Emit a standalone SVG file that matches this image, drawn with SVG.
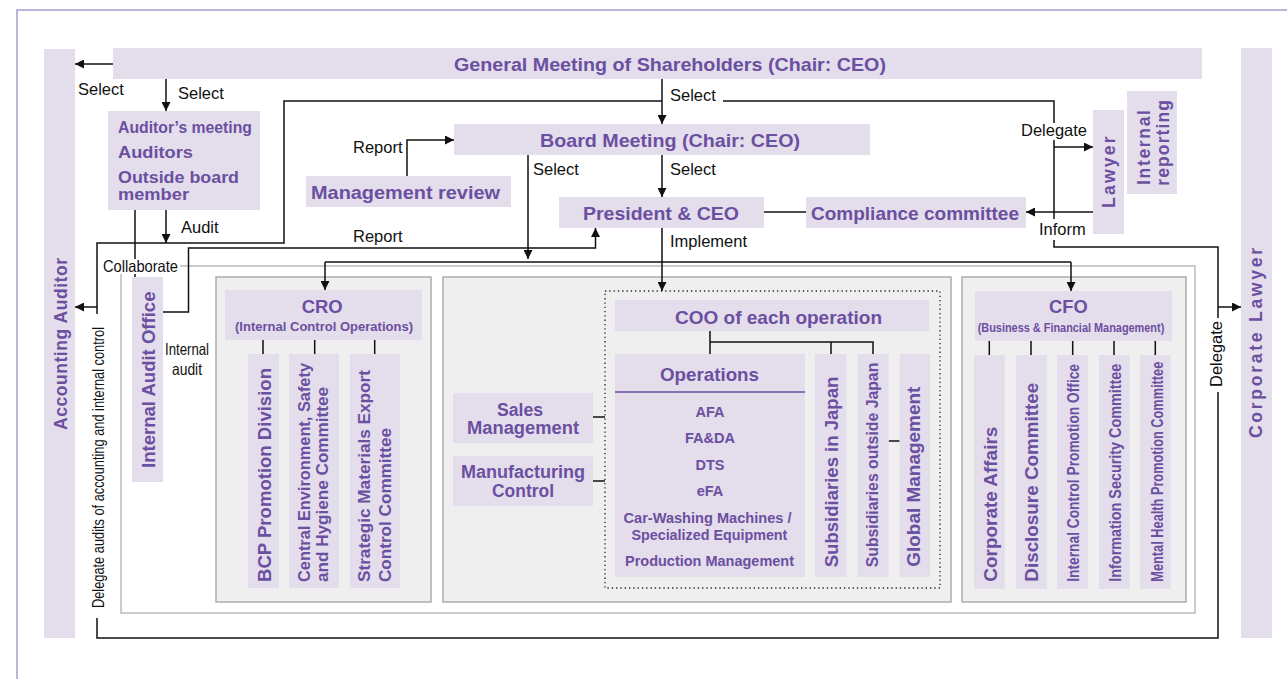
<svg xmlns="http://www.w3.org/2000/svg" width="1287" height="679" viewBox="0 0 1287 679">
<defs>
<style>
.box{fill:#e3ddec}
.t{font-family:"Liberation Sans",Arial,sans-serif;font-weight:bold;fill:#6b4fa0}
.l{font-family:"Liberation Sans",Arial,sans-serif;font-size:16.5px;fill:#111}
.c{fill:none;stroke:#111;stroke-width:1.5}
.panel{fill:#efefef;stroke:#adadad;stroke-width:1.5}
</style>
<marker id="ah" viewBox="0 0 10 10" refX="10" refY="5" markerWidth="9" markerHeight="9" markerUnits="userSpaceOnUse" orient="auto"><path d="M0,0 L10,5 L0,10 z" fill="#111"/></marker>
</defs>
<rect width="1287" height="679" fill="#fff"/>
<path d="M17,679 V10 H1287" fill="none" stroke="#a79ccf" stroke-width="1.5"/>

<!-- containers -->
<rect id="container" x="121" y="266" width="1074" height="347" fill="#fff" stroke="#bbb" stroke-width="1.5"/>
<rect id="cro-panel" class="panel" x="216" y="277" width="215" height="325"/>
<rect id="ops-panel" class="panel" x="443" y="277" width="508" height="325"/>
<rect id="cfo-panel" class="panel" x="962" y="277" width="224" height="325"/>
<rect id="coo-dotted" x="605" y="291" width="335" height="297" fill="none" stroke="#222" stroke-width="1.3" stroke-dasharray="1.3 3"/>

<g id="connectors" class="c">
<path d="M113,64 H75" marker-end="url(#ah)"/>
<path d="M166,79 V111" marker-end="url(#ah)"/>
<path d="M662,79 V124" marker-end="url(#ah)"/>
<path d="M97,314 V243 H284 V101 H662"/>
<path d="M723,101 H1054 V123"/>
<path d="M1054,140 V219"/>
<path d="M1054,240 V247 H1218 V318"/>
<path d="M1218,392 V638 H97 V618"/>
<path d="M97,307 H75" marker-end="url(#ah)"/>
<path d="M1218,307 H1241" marker-end="url(#ah)"/>
<path d="M1054,147 H1093" marker-end="url(#ah)"/>
<path d="M1093,212 H1026" marker-end="url(#ah)"/>
<path d="M662,155 V197" marker-end="url(#ah)"/>
<path d="M528,155 V259" marker-end="url(#ah)"/>
<path d="M325,262 H1071"/>
<path d="M325,262 V290" marker-end="url(#ah)"/>
<path d="M1071,262 V291" marker-end="url(#ah)"/>
<path d="M662,228 V291" marker-end="url(#ah)"/>
<path d="M407,176 V140 H454" marker-end="url(#ah)"/>
<path d="M764,212 H806"/>
<path d="M166,210 V243" marker-end="url(#ah)"/>
<path d="M135,210 V260"/>
<path d="M135,273 V277"/>
<path d="M163,312 H188.5 V248 H595.5 V228" marker-end="url(#ah)"/>
<path d="M263,340 V354 M314.7,340 V354 M374.7,340 V354"/>
<path d="M989.3,341 V355 M1031,341 V355 M1072.7,341 V355 M1114,341 V355 M1155.3,341 V355"/>
<path d="M710,331 V354 M710,342 H873 V354 M831,342 V354"/>
<path d="M888.6,441 H899.7"/>
<path d="M593,417 H605 M593,481 H605"/>
</g>

<g id="accounting-auditor"><rect class="box" x="44" y="49" width="31" height="589"/>
<text class="t" transform="translate(66.5,430) rotate(-90)" font-size="17.5" textLength="172">Accounting Auditor</text></g>
<g id="corporate-lawyer"><rect class="box" x="1241" y="48" width="31" height="590"/>
<text class="t" transform="translate(1262,438) rotate(-90)" font-size="17.5" textLength="190">Corporate Lawyer</text></g>

<g id="gm"><rect class="box" x="113" y="48" width="1089" height="31"/>
<text class="t" x="454" y="71" font-size="19" textLength="432" lengthAdjust="spacingAndGlyphs">General Meeting of Shareholders (Chair: CEO)</text></g>

<g id="auditors"><rect class="box" x="108" y="111" width="152" height="99"/>
<text class="t" x="118" y="133" font-size="16.5" textLength="134" lengthAdjust="spacingAndGlyphs">Auditor’s meeting</text>
<text class="t" x="118" y="158" font-size="16.5" textLength="75" lengthAdjust="spacingAndGlyphs">Auditors</text>
<text class="t" x="118" y="183" font-size="16.5" textLength="121" lengthAdjust="spacingAndGlyphs">Outside board</text>
<text class="t" x="118" y="200" font-size="16.5" textLength="71" lengthAdjust="spacingAndGlyphs">member</text></g>

<g id="board"><rect class="box" x="454" y="124" width="416" height="31"/>
<text class="t" x="540" y="146.7" font-size="19" textLength="260" lengthAdjust="spacingAndGlyphs">Board Meeting (Chair: CEO)</text></g>

<g id="mgmt-review"><rect class="box" x="306" y="176" width="205" height="31"/>
<text class="t" x="311" y="199" font-size="19" textLength="189" lengthAdjust="spacingAndGlyphs">Management review</text></g>

<g id="president"><rect class="box" x="559" y="197" width="205" height="31"/>
<text class="t" x="583" y="220" font-size="19" textLength="156" lengthAdjust="spacingAndGlyphs">President &amp; CEO</text></g>

<g id="compliance"><rect class="box" x="806" y="197" width="220" height="31"/>
<text class="t" x="811" y="220" font-size="19" textLength="208" lengthAdjust="spacingAndGlyphs">Compliance committee</text></g>

<g id="lawyer"><rect class="box" x="1093" y="110" width="31" height="124"/>
<text class="t" transform="translate(1114.5,208) rotate(-90)" font-size="17.5" textLength="71.6">Lawyer</text></g>

<g id="internal-reporting"><rect class="box" x="1127" y="91" width="50" height="103"/>
<text class="t" transform="translate(1150,185) rotate(-90)" font-size="17.5" textLength="75">Internal</text>
<text class="t" transform="translate(1168.5,185.7) rotate(-90)" font-size="17.5" textLength="85.7">reporting</text></g>

<g id="internal-audit-office"><rect class="box" x="132" y="277" width="31" height="205"/>
<text class="t" transform="translate(155,468) rotate(-90)" font-size="18.5" textLength="176.5" lengthAdjust="spacingAndGlyphs">Internal Audit Office</text></g>

<g id="cro"><rect class="box" x="225" y="290" width="197" height="50"/>
<text class="t" x="301.7" y="312.7" font-size="18.5" textLength="41" lengthAdjust="spacingAndGlyphs">CRO</text>
<text class="t" x="235" y="331" font-size="13.5" textLength="178" lengthAdjust="spacingAndGlyphs">(Internal Control Operations)</text></g>

<g id="bcp"><rect class="box" x="248" y="354" width="31" height="234"/>
<text class="t" transform="translate(270.5,582) rotate(-90)" font-size="18" textLength="214" lengthAdjust="spacingAndGlyphs">BCP Promotion Division</text></g>
<g id="central-env"><rect class="box" x="289" y="354" width="50" height="234"/>
<text class="t" transform="translate(310,582) rotate(-90)" font-size="16.5" textLength="219" lengthAdjust="spacingAndGlyphs">Central Environment, Safety</text>
<text class="t" transform="translate(328,582) rotate(-90)" font-size="16.5" textLength="195" lengthAdjust="spacingAndGlyphs">and Hygiene Committee</text></g>
<g id="strategic"><rect class="box" x="350" y="354" width="50" height="234"/>
<text class="t" transform="translate(369.5,582) rotate(-90)" font-size="17" textLength="212" lengthAdjust="spacingAndGlyphs">Strategic Materials Export</text>
<text class="t" transform="translate(390.5,582) rotate(-90)" font-size="17" textLength="154" lengthAdjust="spacingAndGlyphs">Control Committee</text></g>

<g id="sales"><rect class="box" x="453" y="393" width="140" height="50"/>
<text class="t" x="497" y="416" font-size="18" textLength="46" lengthAdjust="spacingAndGlyphs">Sales</text>
<text class="t" x="467" y="434" font-size="18" textLength="112" lengthAdjust="spacingAndGlyphs">Management</text></g>
<g id="manufacturing"><rect class="box" x="453" y="456" width="140" height="50"/>
<text class="t" x="461" y="478" font-size="18" textLength="124" lengthAdjust="spacingAndGlyphs">Manufacturing</text>
<text class="t" x="492" y="497" font-size="18" textLength="62" lengthAdjust="spacingAndGlyphs">Control</text></g>

<g id="coo"><rect class="box" x="615" y="300" width="314" height="31"/>
<text class="t" x="675" y="323.5" font-size="19" textLength="207" lengthAdjust="spacingAndGlyphs">COO of each operation</text></g>

<g id="operations"><rect class="box" x="615" y="354" width="190" height="223"/>
<text class="t" x="660" y="380.5" font-size="18.5" textLength="99" lengthAdjust="spacingAndGlyphs">Operations</text>
<path d="M615,392 H805" stroke="#6b4fa0" stroke-width="1.5"/>
<text class="t" x="710" y="416.5" font-size="14.5" text-anchor="middle">AFA</text>
<text class="t" x="710" y="443" font-size="14.5" text-anchor="middle">FA&amp;DA</text>
<text class="t" x="710" y="470" font-size="14.5" text-anchor="middle">DTS</text>
<text class="t" x="710" y="496" font-size="14.5" text-anchor="middle">eFA</text>
<text class="t" x="623.5" y="523" font-size="14.5" textLength="168" lengthAdjust="spacingAndGlyphs">Car-Washing Machines /</text>
<text class="t" x="631.4" y="539.5" font-size="14.5" textLength="156" lengthAdjust="spacingAndGlyphs">Specialized Equipment</text>
<text class="t" x="625" y="565.5" font-size="14.5" textLength="169" lengthAdjust="spacingAndGlyphs">Production Management</text></g>

<g id="subs-japan"><rect class="box" x="815" y="354" width="31.5" height="223"/>
<text class="t" transform="translate(837.5,567.3) rotate(-90)" font-size="18.5" textLength="190.6" lengthAdjust="spacingAndGlyphs">Subsidiaries in Japan</text></g>
<g id="subs-outside"><rect class="box" x="857.6" y="354" width="31" height="223"/>
<text class="t" transform="translate(878,567.3) rotate(-90)" font-size="17" textLength="204.6" lengthAdjust="spacingAndGlyphs">Subsidiaries outside Japan</text></g>
<g id="global-mgmt"><rect class="box" x="899.7" y="354" width="30.3" height="223"/>
<text class="t" transform="translate(919.5,566.7) rotate(-90)" font-size="18.5" textLength="180" lengthAdjust="spacingAndGlyphs">Global Management</text></g>

<g id="cfo"><rect class="box" x="975" y="291" width="197" height="50"/>
<text class="t" x="1049" y="313.3" font-size="18.5" textLength="38.7" lengthAdjust="spacingAndGlyphs">CFO</text>
<text class="t" x="977.7" y="332" font-size="13" textLength="186.6" lengthAdjust="spacingAndGlyphs">(Business &amp; Financial Management)</text></g>

<g id="corp-affairs"><rect class="box" x="974" y="355" width="30.7" height="234"/>
<text class="t" transform="translate(996.7,581.7) rotate(-90)" font-size="18.5" textLength="155" lengthAdjust="spacingAndGlyphs">Corporate Affairs</text></g>
<g id="disclosure"><rect class="box" x="1016" y="355" width="30.7" height="234"/>
<text class="t" transform="translate(1038,581.7) rotate(-90)" font-size="18.5" textLength="199" lengthAdjust="spacingAndGlyphs">Disclosure Committee</text></g>
<g id="icpo"><rect class="box" x="1057" y="355" width="30.7" height="234"/>
<text class="t" transform="translate(1079.3,581.7) rotate(-90)" font-size="16.5" textLength="217.7" lengthAdjust="spacingAndGlyphs">Internal Control Promotion Office</text></g>
<g id="infosec"><rect class="box" x="1099" y="355" width="30.7" height="234"/>
<text class="t" transform="translate(1120.5,581.7) rotate(-90)" font-size="16.5" textLength="218" lengthAdjust="spacingAndGlyphs">Information Security Committee</text></g>
<g id="mental-health"><rect class="box" x="1140" y="355" width="30.7" height="234"/>
<text class="t" transform="translate(1163,581.7) rotate(-90)" font-size="16.5" textLength="220" lengthAdjust="spacingAndGlyphs">Mental Health Promotion Committee</text></g>

<g id="labels">
<rect x="102" y="259" width="78" height="15" fill="#fff"/>
<text class="l" x="103" y="271.5" font-size="14.5" textLength="75" lengthAdjust="spacingAndGlyphs">Collaborate</text>
<text class="l" x="78" y="95">Select</text>
<text class="l" x="178" y="99">Select</text>
<text class="l" x="670" y="100.5">Select</text>
<text class="l" x="670" y="175">Select</text>
<text class="l" x="533" y="175">Select</text>
<text class="l" x="353" y="153">Report</text>
<text class="l" x="353" y="241.5">Report</text>
<text class="l" x="181" y="233">Audit</text>
<text class="l" x="670" y="247">Implement</text>
<text class="l" x="1021" y="136">Delegate</text>
<text class="l" x="1039" y="235">Inform</text>
<text class="l" x="165" y="355" font-size="13.5" textLength="44" lengthAdjust="spacingAndGlyphs">Internal</text>
<text class="l" x="172" y="375" font-size="13.5" textLength="30" lengthAdjust="spacingAndGlyphs">audit</text>
<text class="l" transform="translate(104,608) rotate(-90)" font-size="15" textLength="281" lengthAdjust="spacingAndGlyphs">Delegate audits of accounting and internal control</text>
<text class="l" transform="translate(1222,387) rotate(-90)">Delegate</text>
</g>
</svg>
